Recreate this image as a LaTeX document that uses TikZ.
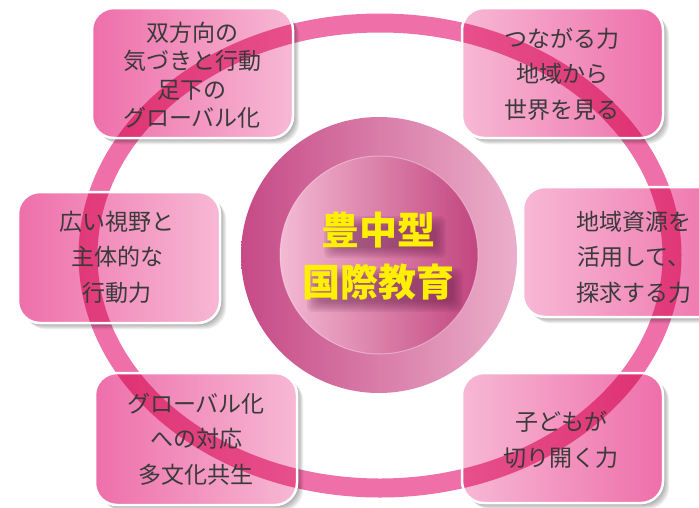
\documentclass[tikz,border=0pt]{standalone}
\usepackage{fontspec}
\newfontfamily\jp{Noto Sans CJK JP}
\definecolor{ringc}{HTML}{EF6FA9}
\definecolor{bxdark}{HTML}{EE6FAA}
\definecolor{bxlight}{HTML}{F7B8D5}
\definecolor{txt}{HTML}{3A3A3A}
\definecolor{cyel}{HTML}{FFF000}
\definecolor{oL}{HTML}{C64A86}
\definecolor{oR}{HTML}{EBAFCB}
\definecolor{iL}{HTML}{F3BAD3}
\definecolor{iR}{HTML}{C2457F}
\definecolor{shd}{HTML}{5A1640}
\tikzset{
  frame/.style 2 args={minimum width=#1pt, minimum height=#2pt, inner sep=0pt, outer sep=0pt},
  ringline/.style={draw=ringc, line width=19pt},
  lbl/.style={font=\jp\fontsize{23}{35.5}\selectfont, text=txt, align=center, inner sep=0pt},
  ctext/.style={font=\jp\bfseries\fontsize{38}{52}\selectfont, align=center, inner sep=0pt},
  rc/.style={rounded corners=22pt},
  haze/.style={fill=shd, opacity=0.09, rounded corners=6pt}
}
\newcommand\decobox[3]{%
  \foreach \k in {1,...,7}
    \fill[black, opacity=0.055, rc] ([shift={(\k*0.9,\k*0.9)}]#1.south west) rectangle ([shift={(\k*0.9,\k*0.9)}]#1.north east);
  \fill[white, rc] (#1.south west) rectangle (#1.north east);
  \begin{scope}
    \clip[rc] (#1.south west) rectangle (#1.north east);
    \draw[ringline] (rcen) ellipse [x radius=292, y radius=232.5];
  \end{scope}
  \begin{scope}[blend mode=multiply]
    \shade[rc, left color=#2, right color=#3] (#1.south west) rectangle (#1.north east);
  \end{scope}
  \draw[white, line width=2.5pt, rc] (#1.south west) rectangle (#1.north east);
}
\begin{document}
\begin{tikzpicture}[x=1pt, y=-1pt]
\useasboundingbox (0,0) rectangle (699,507);
\clip (0,0) rectangle (699,507);
\fill[white] (0,0) rectangle (699,507);
% big ring
\coordinate (rcen) at (380,255.5);
\draw[ringline] (rcen) ellipse [x radius=292, y radius=232.5];
% centre circles
\coordinate (cc) at (379,255);
\shade[left color=oL, right color=oR] (cc) circle (138);
\shade[left color=iL, right color=iR] (cc) circle (99);
\draw[white, opacity=0.35, line width=1pt] (cc) circle (99);
% box frames
\node[frame={201}{130}] (tl) at (192.5,73) {};
\node[frame={201}{130}] (tr) at (562.5,73) {};
\node[frame={202}{131}] (ml) at (119,257.5) {};
\node[frame={212}{130}] (mr) at (629,252) {};
\node[frame={202}{132}] (bl) at (196,439) {};
\node[frame={201}{130}] (br) at (562.5,438) {};
\decobox{tl}{bxdark}{bxlight}
\decobox{tr}{bxlight}{bxdark}
\decobox{ml}{bxdark}{bxlight}
\decobox{mr}{bxlight}{bxdark}
\decobox{bl}{bxdark}{bxlight}
\decobox{br}{bxlight}{bxdark}
% labels
\node[lbl, font=\jp\fontsize{23}{28.5}\selectfont] (tlt) at (192,75) {双方向の\\気づきと行動\\足下の\\グローバル化};
\node[lbl] (trt) at (562,74) {つながる力\\地域から\\世界を見る};
\node[lbl] (mlt) at (117,257) {広い視野と\\主体的な\\行動力};
\node[lbl] (mrt) at (634,257) {地域資源を\\活用して、\\探求する力};
\node[lbl] (blt) at (196,439) {グローバル化\\への対応\\多文化共生};
\node[lbl] (brt) at (561,439.5) {子どもが\\切り開く力};
% soft shadow behind the title
\foreach \k in {0,...,5} {
  \fill[haze] (324+\k*2,216+\k*2) rectangle (446-\k*2,258-\k*2);
  \fill[haze] (307+\k*2,268+\k*2) rectangle (463-\k*2,312-\k*2);
}
\node[ctext, text=cyel] (title) at (378.5,256) {豊中型\\国際教育};
\end{tikzpicture}
\end{document}
